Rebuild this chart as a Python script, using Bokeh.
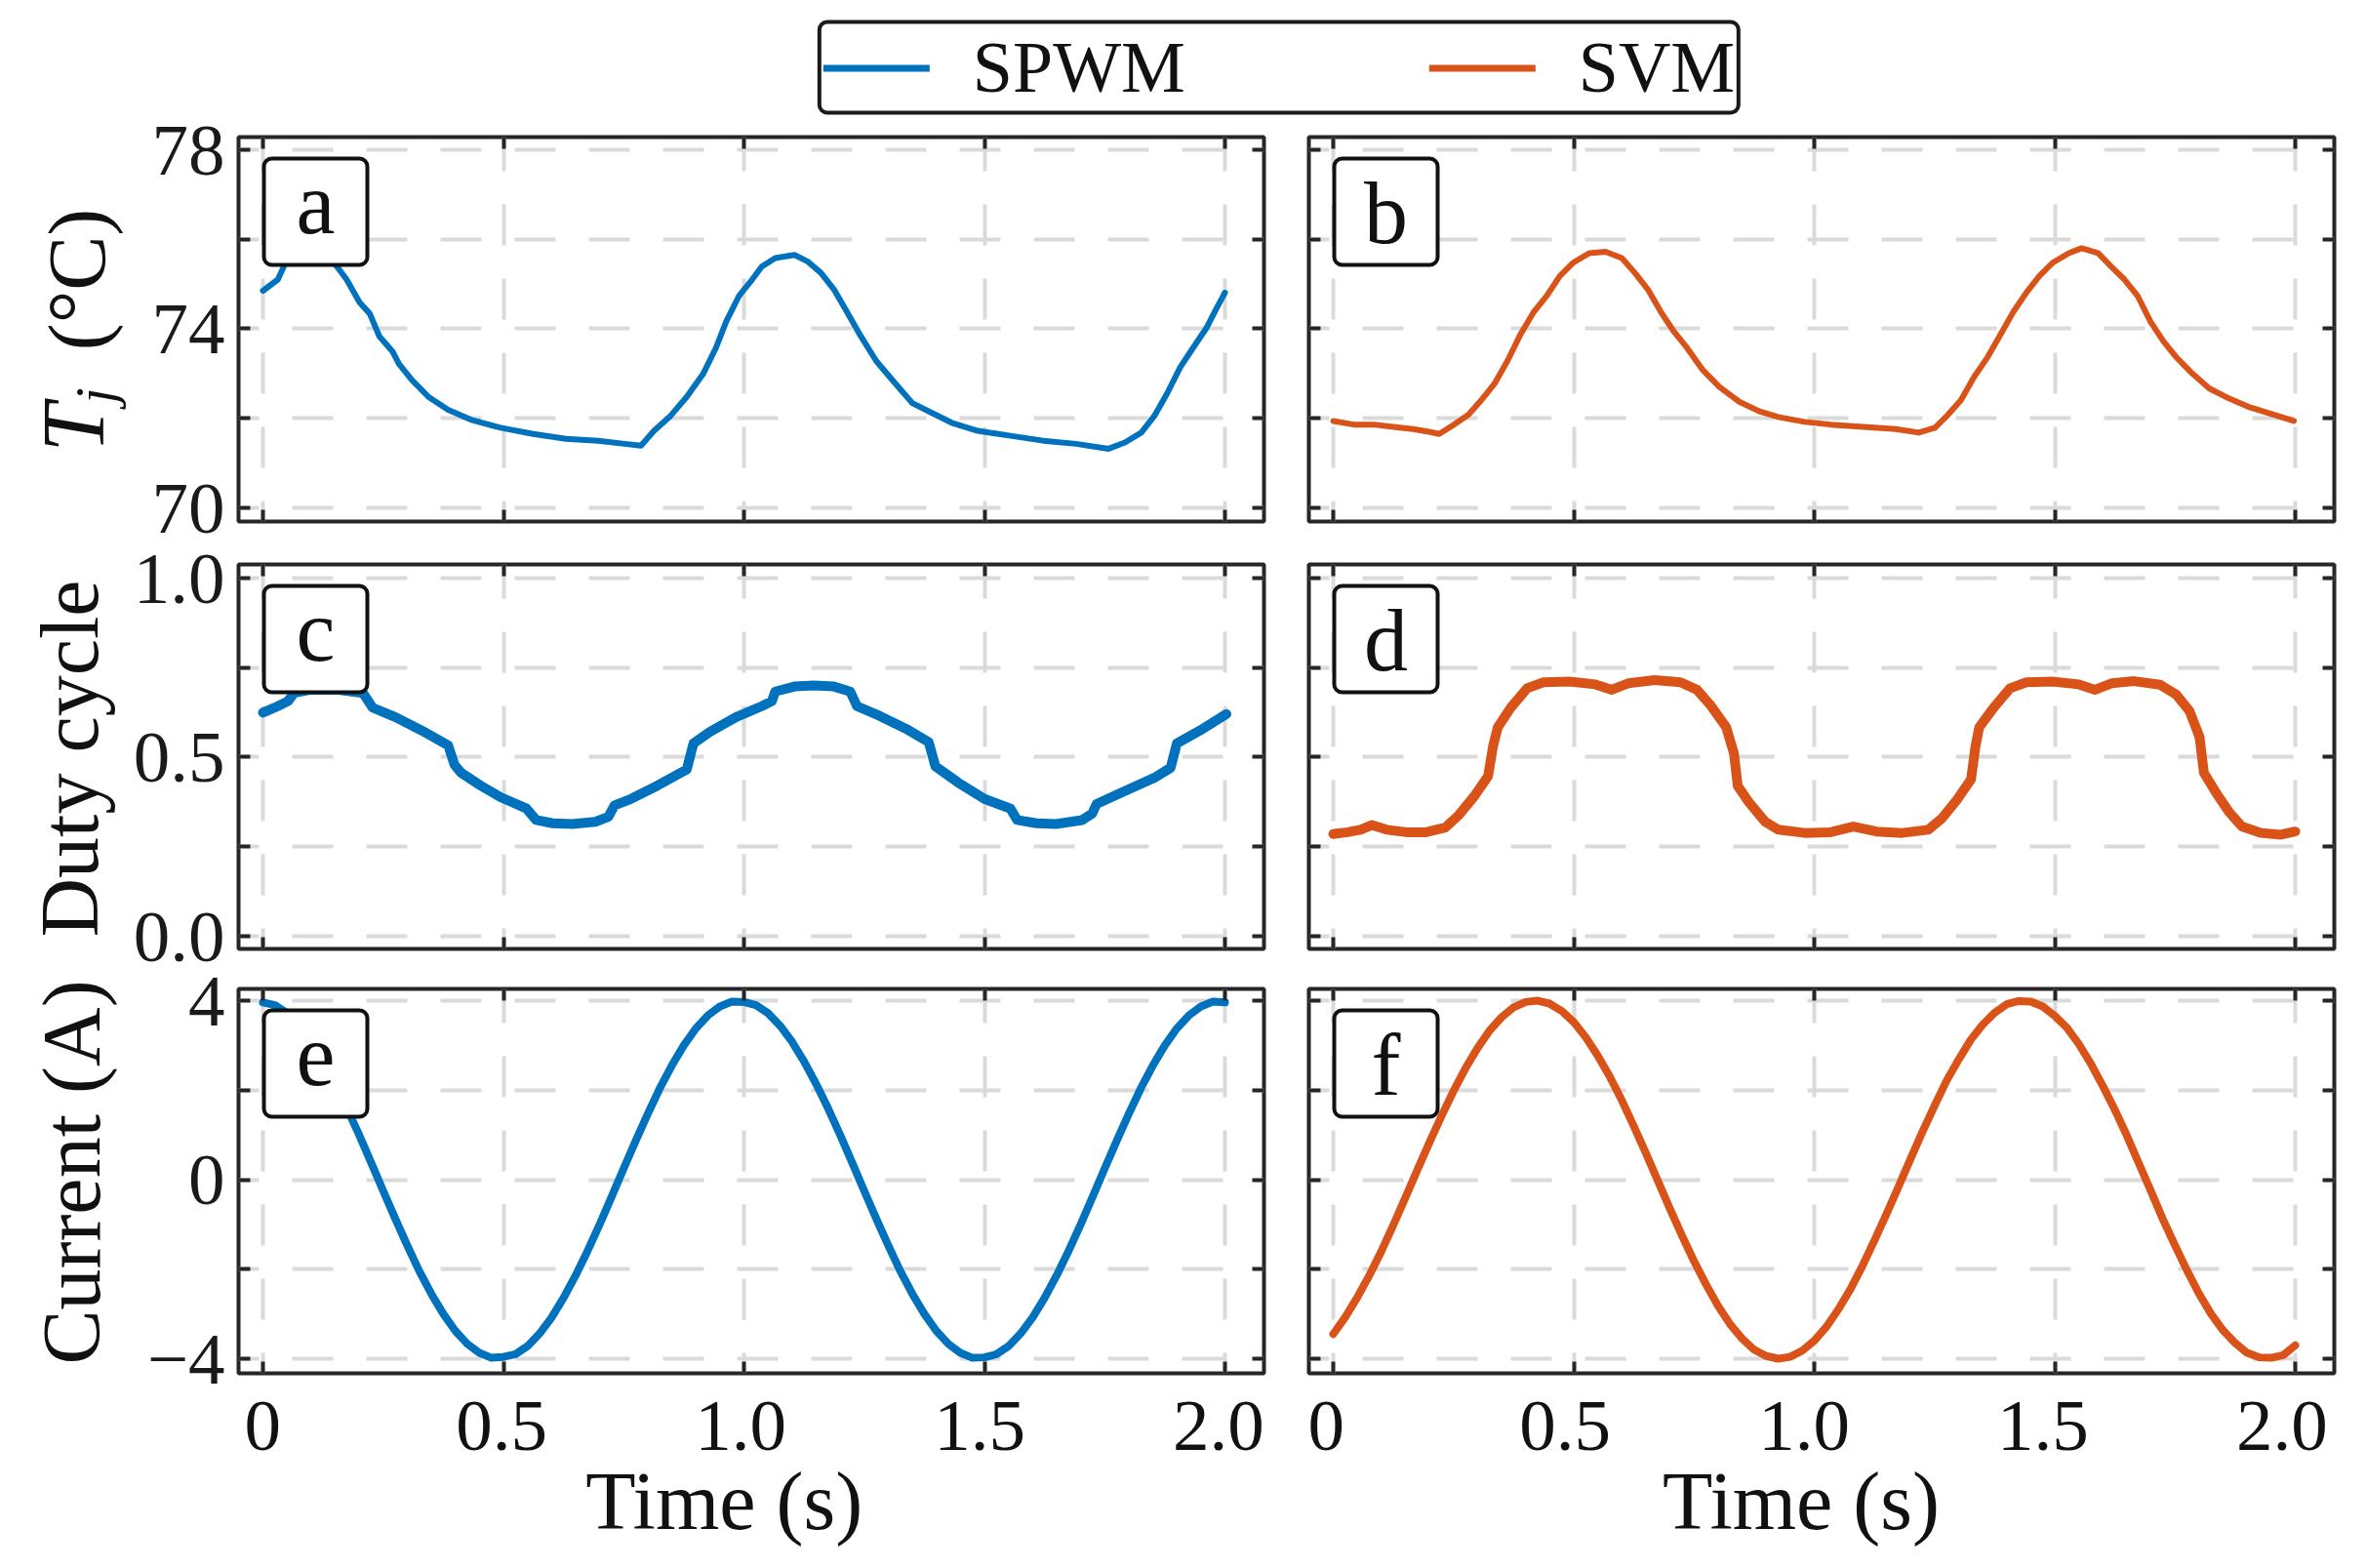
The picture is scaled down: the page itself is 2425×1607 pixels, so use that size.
import math
from bokeh.plotting import figure
from bokeh.models import (Range1d, LinearAxis, FixedTicker, Label, BoxAnnotation,
                          Legend, LegendItem, ColumnDataSource)
from bokeh.layouts import column, row
from bokeh.embed import file_html
from bokeh.resources import INLINE

# ---------------- data ----------------
series_names = ["SPWM", "SVM"]

t_a = [0, 0.031, 0.045, 0.07, 0.10, 0.13, 0.154, 0.174, 0.201, 0.222, 0.242, 0.269, 0.283, 0.310,
       0.344, 0.385, 0.432, 0.494, 0.562, 0.630, 0.697, 0.752, 0.786, 0.813, 0.847, 0.881, 0.915,
       0.942, 0.963, 0.990, 1.017, 1.037, 1.065, 1.105, 1.133, 1.160, 1.187, 1.214, 1.241, 1.275,
       1.309, 1.350, 1.391, 1.432, 1.486, 1.554, 1.622, 1.690, 1.758, 1.792, 1.826, 1.853, 1.880,
       1.907, 1.934, 1.961, 1.982, 2.0]
tj_spwm = [74.85, 75.10, 75.43, 75.72, 75.85, 75.70, 75.39, 75.10, 74.59, 74.34, 73.83, 73.50, 73.21,
           72.85, 72.48, 72.19, 71.97, 71.79, 71.65, 71.54, 71.50, 71.43, 71.39, 71.72, 72.05, 72.48,
           72.99, 73.58, 74.16, 74.74, 75.10, 75.39, 75.58, 75.65, 75.50, 75.25, 74.88, 74.38, 73.87,
           73.28, 72.85, 72.34, 72.12, 71.90, 71.72, 71.61, 71.50, 71.43, 71.32, 71.46, 71.68, 72.05,
           72.56, 73.14, 73.58, 74.01, 74.45, 74.81]

t_b = [0.0, 0.043, 0.084, 0.125, 0.166, 0.199, 0.220, 0.247, 0.281, 0.308, 0.335, 0.362, 0.389, 0.417,
       0.444, 0.471, 0.498, 0.532, 0.566, 0.600, 0.627, 0.654, 0.681, 0.708, 0.735, 0.769, 0.803,
       0.844, 0.885, 0.925, 0.980, 1.034, 1.102, 1.170, 1.217, 1.251, 1.278, 1.305, 1.332, 1.360,
       1.387, 1.414, 1.441, 1.468, 1.495, 1.529, 1.556, 1.590, 1.617, 1.645, 1.672, 1.699, 1.726,
       1.753, 1.787, 1.821, 1.861, 1.902, 1.943, 1.997]
tj_svm = [71.94, 71.86, 71.86, 71.81, 71.76, 71.70, 71.65, 71.83, 72.08, 72.41, 72.77, 73.28, 73.87,
          74.38, 74.74, 75.18, 75.47, 75.69, 75.72, 75.58, 75.25, 74.88, 74.38, 73.94, 73.58, 73.07,
          72.70, 72.37, 72.16, 72.03, 71.92, 71.86, 71.81, 71.76, 71.68, 71.79, 72.08, 72.41, 72.92,
          73.36, 73.87, 74.38, 74.81, 75.18, 75.47, 75.69, 75.80, 75.69, 75.39, 75.10, 74.74, 74.16,
          73.72, 73.36, 72.99, 72.67, 72.45, 72.26, 72.12, 71.94]

t_c = [0.0, 0.031, 0.052, 0.065, 0.099, 0.154, 0.208, 0.228, 0.276, 0.330, 0.385, 0.398, 0.412, 0.453,
       0.494, 0.548, 0.568, 0.602, 0.643, 0.691, 0.718, 0.731, 0.765, 0.820, 0.881, 0.895, 0.929,
       0.983, 1.037, 1.058, 1.065, 1.105, 1.146, 1.187, 1.221, 1.235, 1.282, 1.337, 1.384, 1.398,
       1.445, 1.500, 1.554, 1.568, 1.608, 1.649, 1.703, 1.724, 1.733, 1.785, 1.853, 1.887, 1.900,
       1.948, 2.003]
duty_spwm = [0.624, 0.642, 0.656, 0.679, 0.688, 0.688, 0.679, 0.638, 0.611, 0.574, 0.533, 0.479, 0.456,
             0.420, 0.388, 0.356, 0.324, 0.315, 0.313, 0.319, 0.333, 0.365, 0.383, 0.420, 0.465, 0.538,
             0.570, 0.611, 0.642, 0.656, 0.683, 0.697, 0.700, 0.697, 0.683, 0.642, 0.615, 0.579, 0.542,
             0.474, 0.429, 0.383, 0.356, 0.324, 0.315, 0.313, 0.324, 0.342, 0.369, 0.401, 0.442, 0.470,
             0.538, 0.574, 0.620]

t_d = [0.0, 0.030, 0.057, 0.080, 0.111, 0.152, 0.193, 0.233, 0.261, 0.294, 0.322, 0.332, 0.342, 0.369,
       0.403, 0.437, 0.491, 0.545, 0.579, 0.613, 0.668, 0.722, 0.756, 0.783, 0.817, 0.833, 0.841,
       0.864, 0.898, 0.925, 0.980, 1.034, 1.081, 1.129, 1.183, 1.237, 1.265, 1.298, 1.326, 1.335,
       1.343, 1.373, 1.407, 1.441, 1.495, 1.550, 1.584, 1.618, 1.665, 1.719, 1.753, 1.780, 1.801,
       1.810, 1.835, 1.862, 1.889, 1.929, 1.970, 2.0]
duty_svm = [0.285, 0.290, 0.297, 0.310, 0.297, 0.290, 0.290, 0.303, 0.338, 0.392, 0.447, 0.529, 0.583,
            0.638, 0.692, 0.709, 0.711, 0.703, 0.688, 0.706, 0.715, 0.709, 0.688, 0.647, 0.583, 0.510,
            0.419, 0.374, 0.319, 0.297, 0.288, 0.290, 0.306, 0.292, 0.288, 0.297, 0.328, 0.383, 0.438,
            0.529, 0.583, 0.638, 0.692, 0.709, 0.711, 0.703, 0.688, 0.706, 0.712, 0.702, 0.674, 0.629,
            0.556, 0.456, 0.401, 0.347, 0.306, 0.288, 0.283, 0.292]

t_e = [0.0, 0.025, 0.05, 0.075, 0.10, 0.125, 0.15, 0.175, 0.20, 0.225, 0.25, 0.275, 0.30, 0.325,
       0.35, 0.375, 0.40, 0.425, 0.45, 0.475, 0.50, 0.525, 0.55, 0.575, 0.60, 0.625, 0.65, 0.675,
       0.70, 0.725, 0.75, 0.775, 0.80, 0.825, 0.85, 0.875, 0.90, 0.925, 0.95, 0.975, 1.00, 1.025,
       1.05, 1.075, 1.10, 1.125, 1.15, 1.175, 1.20, 1.225, 1.25, 1.275, 1.30, 1.325, 1.35, 1.375,
       1.40, 1.425, 1.45, 1.475, 1.50, 1.525, 1.55, 1.575, 1.60, 1.625, 1.65, 1.675, 1.70, 1.725,
       1.75, 1.775, 1.80, 1.825, 1.85, 1.875, 1.90, 1.925, 1.95, 1.975, 2.00]
cur_spwm = [3.96, 3.90, 3.72, 3.44, 3.08, 2.64, 2.14, 1.59, 1.00, 0.38, -0.25, -0.87, -1.47, -2.04,
            -2.55, -3.00, -3.38, -3.67, -3.87, -3.98, -3.96, -3.90, -3.72, -3.44, -3.08, -2.64, -2.14,
            -1.59, -1.00, -0.38, 0.25, 0.87, 1.47, 2.04, 2.55, 3.00, 3.38, 3.67, 3.87, 3.98, 3.97,
            3.90, 3.72, 3.44, 3.08, 2.64, 2.14, 1.59, 1.00, 0.38, -0.25, -0.87, -1.47, -2.04, -2.55,
            -3.00, -3.38, -3.67, -3.87, -3.98, -3.97, -3.90, -3.72, -3.44, -3.08, -2.64, -2.14, -1.59,
            -1.00, -0.38, 0.25, 0.87, 1.47, 2.04, 2.55, 3.00, 3.38, 3.67, 3.87, 3.98, 3.96]
cur_svm = [-3.45, -3.07, -2.63, -2.14, -1.60, -1.01, -0.40, 0.22, 0.83, 1.42, 1.98, 2.49, 2.94, 3.33,
           3.63, 3.85, 3.97, 4.00, 3.93, 3.77, 3.52, 3.18, 2.77, 2.30, 1.77, 1.19, 0.59, -0.03, -0.65,
           -1.25, -1.82, -2.34, -2.82, -3.23, -3.55, -3.80, -3.94, -4.00, -3.96, -3.82, -3.60, -3.29,
           -2.90, -2.45, -1.93, -1.36, -0.77, -0.16, 0.46, 1.07, 1.65, 2.21, 2.68, 3.12, 3.46, 3.73,
           3.92, 3.99, 3.98, 3.87, 3.66, 3.40, 3.03, 2.59, 2.09, 1.56, 0.98, 0.36, -0.26, -0.89, -1.47,
           -2.03, -2.55, -3.00, -3.37, -3.65, -3.87, -3.97, -3.98, -3.92, -3.70]

x_ticks = [0, 0.5, 1, 1.5, 2]
x_tick_labels = ["0", "0.5", "1.0", "1.5", "2.0"]
tj_ticks = [70, 72, 74, 76, 78]
tj_tick_labels = ["70", "", "74", "", "78"]
duty_ticks = [0, 0.25, 0.5, 0.75, 1]
duty_tick_labels = ["0.0", "", "0.5", "", "1.0"]
cur_ticks = [-4, -2, 0, 2, 4]
cur_tick_labels = ["\u22124", "", "0", "", "4"]
panel_letters = ["a", "b", "c", "d", "e", "f"]
x_title = "Time (s)"

# ---------------- styling / geometry ----------------
SERIF = "Liberation Serif"
BLUE = "#0072BD"
ORANGE = "#D95319"
DARK = "#262626"
GRIDC = "#dadada"
FRAME_W, FRAME_H = 1051, 394
XR = (-0.0507, 2.0811)
YR = {"tj": (69.694, 78.283), "duty": (-0.036, 1.038), "cur": (-4.327, 4.262)}
LEG_H = 124
ROW_BORDERS = [(16, 22), (22, 20), (21, 10)]
BOTTOM_H = 178
STRIP_W = 232
COL_BORDERS = [(244 - STRIP_W, 22), (24, 12)]
BASE_SHIFT = 0.32  # baseline correction (fraction of font size)
TICK_FONT = 75
TITLE_FONT = 84

row_tops = []
acc = LEG_H
for tb, bb_ in ROW_BORDERS:
    row_tops.append(acc + tb)
    acc += tb + FRAME_H + bb_
TOTAL_H = acc + BOTTOM_H
col_lefts = [STRIP_W + COL_BORDERS[0][0],
             STRIP_W + sum(COL_BORDERS[0]) + FRAME_W + COL_BORDERS[1][0]]
right_edge = STRIP_W + sum(COL_BORDERS[0]) + FRAME_W + sum(COL_BORDERS[1]) + FRAME_W
SX = FRAME_W / (XR[1] - XR[0])


def px_to_data(yr, dx, dy):
    sy = FRAME_H / (yr[1] - yr[0])
    return XR[0] + dx / SX, yr[1] - dy / sy


def style_axis(ax, ticks):
    ax.ticker = FixedTicker(ticks=ticks)
    ax.axis_line_color = None
    ax.major_tick_in = 12
    ax.major_tick_out = 0
    ax.major_tick_line_width = 4
    ax.major_tick_line_color = DARK
    ax.minor_tick_line_color = None
    ax.major_label_overrides = {k: "" for k in ticks}
    ax.major_label_text_font_size = "1px"
    ax.major_label_standoff = 0


def blank_fig(w, h, xr, yr, **kw):
    f = figure(width=w, height=h, x_range=Range1d(*xr), y_range=Range1d(*yr),
               output_backend="svg", toolbar_location=None,
               x_axis_location=None, y_axis_location=None,
               min_border_left=kw.get("l", 0), min_border_right=kw.get("r", 0),
               min_border_top=kw.get("t", 0), min_border_bottom=kw.get("b", 0))
    f.outline_line_color = None
    f.grid.visible = False
    f.background_fill_color = "white"
    f.border_fill_color = "white"
    return f


def add_text(fig, text, x, y, size, align, angle=0.0, style="normal", color="#111111"):
    fig.add_layout(Label(x=x, y=y, text=text, angle=angle, text_align=align,
                         text_baseline="alphabetic", text_font=SERIF,
                         text_font_size=f"{size}px", text_font_style=style, text_color=color))


configs = [
    (t_a, tj_spwm, BLUE, 6, "tj", tj_ticks, tj_tick_labels),
    (t_b, tj_svm, ORANGE, 6, "tj", tj_ticks, tj_tick_labels),
    (t_c, duty_spwm, BLUE, 10, "duty", duty_ticks, duty_tick_labels),
    (t_d, duty_svm, ORANGE, 10, "duty", duty_ticks, duty_tick_labels),
    (t_e, cur_spwm, BLUE, 8, "cur", cur_ticks, cur_tick_labels),
    (t_e, cur_svm, ORANGE, 8, "cur", cur_ticks, cur_tick_labels),
]

has_box_radius = "border_radius" in BoxAnnotation.properties()
has_leg_radius = "border_radius" in Legend.properties()

# ---------------- left strip: y tick labels and y titles (page pixel coordinates) ----------------
strip = blank_fig(STRIP_W, TOTAL_H, (0, STRIP_W), (0, TOTAL_H))


def strip_text(text, base_x, page_y, size, align, angle=0.0, style="normal", color="#111111"):
    if angle:
        x, y = base_x - BASE_SHIFT * size, TOTAL_H - page_y
    else:
        x, y = base_x, TOTAL_H - (page_y - BASE_SHIFT * size)
    add_text(strip, text, x, y, size, align, angle, style, color)


for r, key in enumerate(["tj", "duty", "cur"]):
    _, _, _, _, _, yt, yl = configs[2 * r]
    yr = YR[key]
    sy = FRAME_H / (yr[1] - yr[0])
    for v, lab in zip(yt, yl):
        if lab:
            page_y = row_tops[r] + (yr[1] - v) * sy
            strip_text(lab, 230, page_y + 0.33 * TICK_FONT, TICK_FONT, "right", color="#1a1a1a")

strip_text("T", 104, 463, 90, "left", angle=math.pi / 2, style="italic")
strip_text("j", 116, 413, 58, "left", angle=math.pi / 2, style="italic")
strip_text("(\u00b0C)", 106, 286, TITLE_FONT, "center", angle=math.pi / 2)
strip_text("Duty cycle", 98, 777, TITLE_FONT, "center", angle=math.pi / 2)
strip_text("Current (A)", 100, 1201, TITLE_FONT, "center", angle=math.pi / 2)

# ---------------- bottom strip: x tick labels and x titles ----------------
bottom = blank_fig(right_edge - STRIP_W, BOTTOM_H, (STRIP_W, right_edge), (0, BOTTOM_H))
bottom_top = TOTAL_H - BOTTOM_H


def bottom_text(text, page_x, base_page_y, size):
    add_text(bottom, text, page_x, TOTAL_H - (base_page_y - BASE_SHIFT * size), size, "center")


x_title_centers = [745, 1856]
for c in range(2):
    for v, lab in zip(x_ticks, x_tick_labels):
        bottom_text(lab, col_lefts[c] + (v - XR[0]) * SX, 1485, TICK_FONT)
    bottom_text(x_title, x_title_centers[c], 1565, TITLE_FONT)

# ---------------- panels ----------------
figs = []
for i, (tt, vv, color, lw, key, yt, yl) in enumerate(configs):
    r, c = divmod(i, 2)
    yr = YR[key]
    p = figure(frame_width=FRAME_W, frame_height=FRAME_H,
               x_range=Range1d(*XR), y_range=Range1d(*yr),
               output_backend="svg", toolbar_location=None,
               min_border_left=COL_BORDERS[c][0], min_border_right=COL_BORDERS[c][1],
               min_border_top=ROW_BORDERS[r][0], min_border_bottom=ROW_BORDERS[r][1])
    p.background_fill_color = "white"
    p.border_fill_color = "white"
    p.outline_line_color = DARK
    p.outline_line_width = 4
    p.outline_line_alpha = 1.0
    p.add_layout(LinearAxis(), "above")
    p.add_layout(LinearAxis(), "right")
    style_axis(p.below[0], x_ticks)
    style_axis(p.above[0], x_ticks)
    style_axis(p.left[0], yt)
    style_axis(p.right[0], yt)
    for g in p.grid:
        g.grid_line_color = GRIDC
        g.grid_line_width = 4
        g.grid_line_dash = "42 34"
        g.grid_line_dash_offset = 21

    src = ColumnDataSource(dict(t=tt, v=vv))
    p.line(x="t", y="v", source=src, line_color=color, line_width=lw,
           line_join="round", line_cap="round")

    # panel letter box
    bl, bt = px_to_data(yr, 26, 22)
    br, bb = px_to_data(yr, 132, 131)
    box = BoxAnnotation(left=bl, right=br, top=bt, bottom=bb, fill_color="white", fill_alpha=1.0,
                        line_color="#111111", line_width=4, line_alpha=1.0)
    if has_box_radius:
        box.border_radius = 8
    p.add_layout(box)
    letter = panel_letters[i]
    base_dy = 97 if letter in ("a", "c", "e") else 107
    lx, ly = px_to_data(yr, 79, base_dy - BASE_SHIFT * 90)
    p.add_layout(Label(x=lx, y=ly, text=letter, text_align="center", text_baseline="alphabetic",
                       text_font=SERIF, text_font_size="90px", text_color="#111111"))
    figs.append(p)

# ---------------- legend strip ----------------
LEG_CENTER = 1311
leg_frame_right = 2 * LEG_CENTER - STRIP_W
lf = figure(width=right_edge - STRIP_W, height=LEG_H, x_range=Range1d(0, 1), y_range=Range1d(0, 1),
            output_backend="svg", toolbar_location=None,
            x_axis_location=None, y_axis_location=None,
            min_border_left=0, min_border_right=right_edge - leg_frame_right, min_border_top=14,
            min_border_bottom=0)
lf.outline_line_color = None
lf.grid.visible = False
lf.background_fill_color = "white"
lf.border_fill_color = "white"
lr1 = lf.line(t_a, tj_spwm, line_color=BLUE, line_width=7, line_cap="round")
lr2 = lf.line(t_b, tj_svm, line_color=ORANGE, line_width=7, line_cap="round")
leg = Legend(items=[LegendItem(label=series_names[0], renderers=[lr1]),
                    LegendItem(label=series_names[1], renderers=[lr2])],
             orientation="horizontal", location="center",
             label_text_font=SERIF, label_text_font_size="74px", label_text_color="#111111",
             glyph_width=109, glyph_height=40, label_standoff=44, spacing=250,
             padding=2, margin=0,
             border_line_color="#1a1a1a", border_line_width=4, border_line_alpha=1.0,
             background_fill_color="white", background_fill_alpha=1.0)
if has_leg_radius:
    leg.border_radius = 10
lf.add_layout(leg, "center")

panels = column(lf, row(figs[0], figs[1]), row(figs[2], figs[3]), row(figs[4], figs[5]), bottom)
layout = row(strip, panels)
open("out.html", "w").write(file_html(layout, INLINE))
